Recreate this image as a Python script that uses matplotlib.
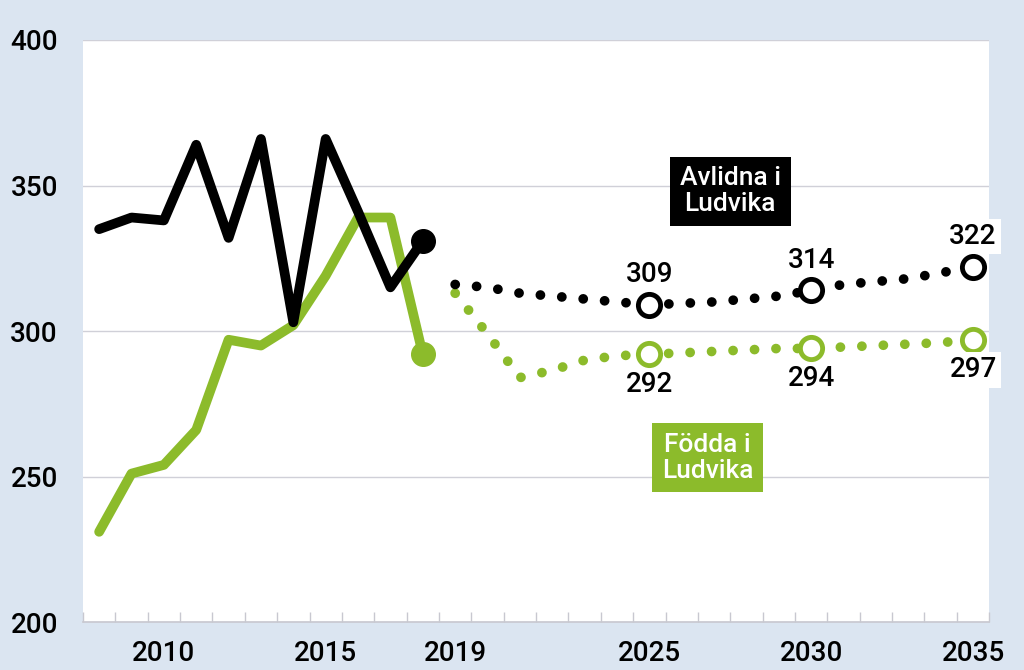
import numpy as np
import matplotlib.pyplot as plt

# =========================
# Data
# =========================
hist_years = list(range(2008, 2019))
avlidna_hist = [335, 339, 338, 364, 332, 366, 303, 366, 341, 315, 331]
fodda_hist = [231, 251, 254, 266, 297, 295, 302, 319, 339, 339, 292]

prog_years = list(range(2019, 2036))
avlidna_prog = [316, 315, 313, 312, 311, 310, 309, 309.5, 310, 311, 312, 314, 316, 317, 318, 320, 322]
fodda_prog = [313, 299, 284, 286.5, 290, 291.5, 292, 292.5, 293, 293.5, 294, 294, 294.5, 295, 295.5, 296, 297]

label_years = [2025, 2030, 2035]
tick_years = [2010, 2015, 2019, 2025, 2030, 2035]

# =========================
# Style
# =========================
BG = "#dbe5f1"
GREEN = "#8cbb2b"
BLACK = "#000000"

plt.rcParams["font.family"] = ["Roboto", "DejaVu Sans"]
plt.rcParams["font.weight"] = "medium"

fig = plt.figure(figsize=(10.24, 6.7), dpi=100, facecolor=BG)
ax = fig.add_axes([0.081, 0.0716, 0.885, 0.8687])
ax.set_facecolor("white")

LW = 7
DOTS = (0, (0.01, 2.2))

# historiska linjer
ax.plot(hist_years, fodda_hist, color=GREEN, lw=LW, solid_joinstyle="round",
        solid_capstyle="round", zorder=3)
ax.plot(hist_years[-1], fodda_hist[-1], "o", color=GREEN, ms=17, zorder=4)
ax.plot(hist_years, avlidna_hist, color=BLACK, lw=LW, solid_joinstyle="round",
        solid_capstyle="round", zorder=5)
ax.plot(hist_years[-1], avlidna_hist[-1], "o", color=BLACK, ms=17, zorder=6)

# prognos (prickad)
ax.plot(prog_years, fodda_prog, color=GREEN, lw=LW, linestyle=DOTS,
        dash_capstyle="round", zorder=3)
ax.plot(prog_years, avlidna_prog, color=BLACK, lw=LW, linestyle=DOTS,
        dash_capstyle="round", zorder=5)

for yr in label_years:
    i = prog_years.index(yr)
    bb = dict(facecolor="white", edgecolor="none", pad=3) if yr == 2035 else None
    ax.plot(yr, avlidna_prog[i], "o", mfc="white", mec=BLACK, mew=3.5, ms=16, zorder=7)
    ax.plot(yr, fodda_prog[i], "o", mfc="white", mec=GREEN, mew=3.5, ms=16, zorder=7)
    ax.annotate(f"{avlidna_prog[i]:.0f}", (yr, avlidna_prog[i]), xytext=(0, 12),
                textcoords="offset points", ha="center", va="bottom", fontsize=20,
                annotation_clip=False, bbox=bb, zorder=8)
    ax.annotate(f"{fodda_prog[i]:.0f}", (yr, fodda_prog[i]), xytext=(0, -12),
                textcoords="offset points", ha="center", va="top", fontsize=20,
                annotation_clip=False, bbox=bb, zorder=8)

# etikettrutor
ax.text(2027.5, 348, "Avlidna i\nLudvika", color="white", fontsize=19,
        ha="center", va="center", linespacing=1.1, zorder=9,
        bbox=dict(facecolor=BLACK, edgecolor="none", pad=7))
ax.text(2026.8, 256.5, "Födda i\nLudvika", color="white", fontsize=19,
        ha="center", va="center", linespacing=1.1, zorder=9,
        bbox=dict(facecolor=GREEN, edgecolor="none", pad=7))

# axlar
ax.set_xlim(2007.5, 2035.5)
ax.set_ylim(200, 400)
ax.set_yticks([200, 250, 300, 350, 400])
ax.set_xticks(tick_years)
ax.set_xticks(np.arange(2007.5, 2036, 1), minor=True)
ax.tick_params(axis="y", length=0, pad=18, labelsize=20)
ax.tick_params(axis="x", which="major", length=0, pad=13, labelsize=20)
ax.tick_params(axis="x", which="minor", direction="in", length=7, width=1, color="#c8c8d0")

ax.grid(axis="y", color="#d0d0d8", lw=1)
ax.set_axisbelow(True)
for s in ["top", "right", "left"]:
    ax.spines[s].set_visible(False)
ax.spines["bottom"].set_color("#c8c8d0")
ax.spines["bottom"].set_linewidth(1.2)

plt.savefig("out.png", dpi=100, facecolor=BG)
plt.close()
